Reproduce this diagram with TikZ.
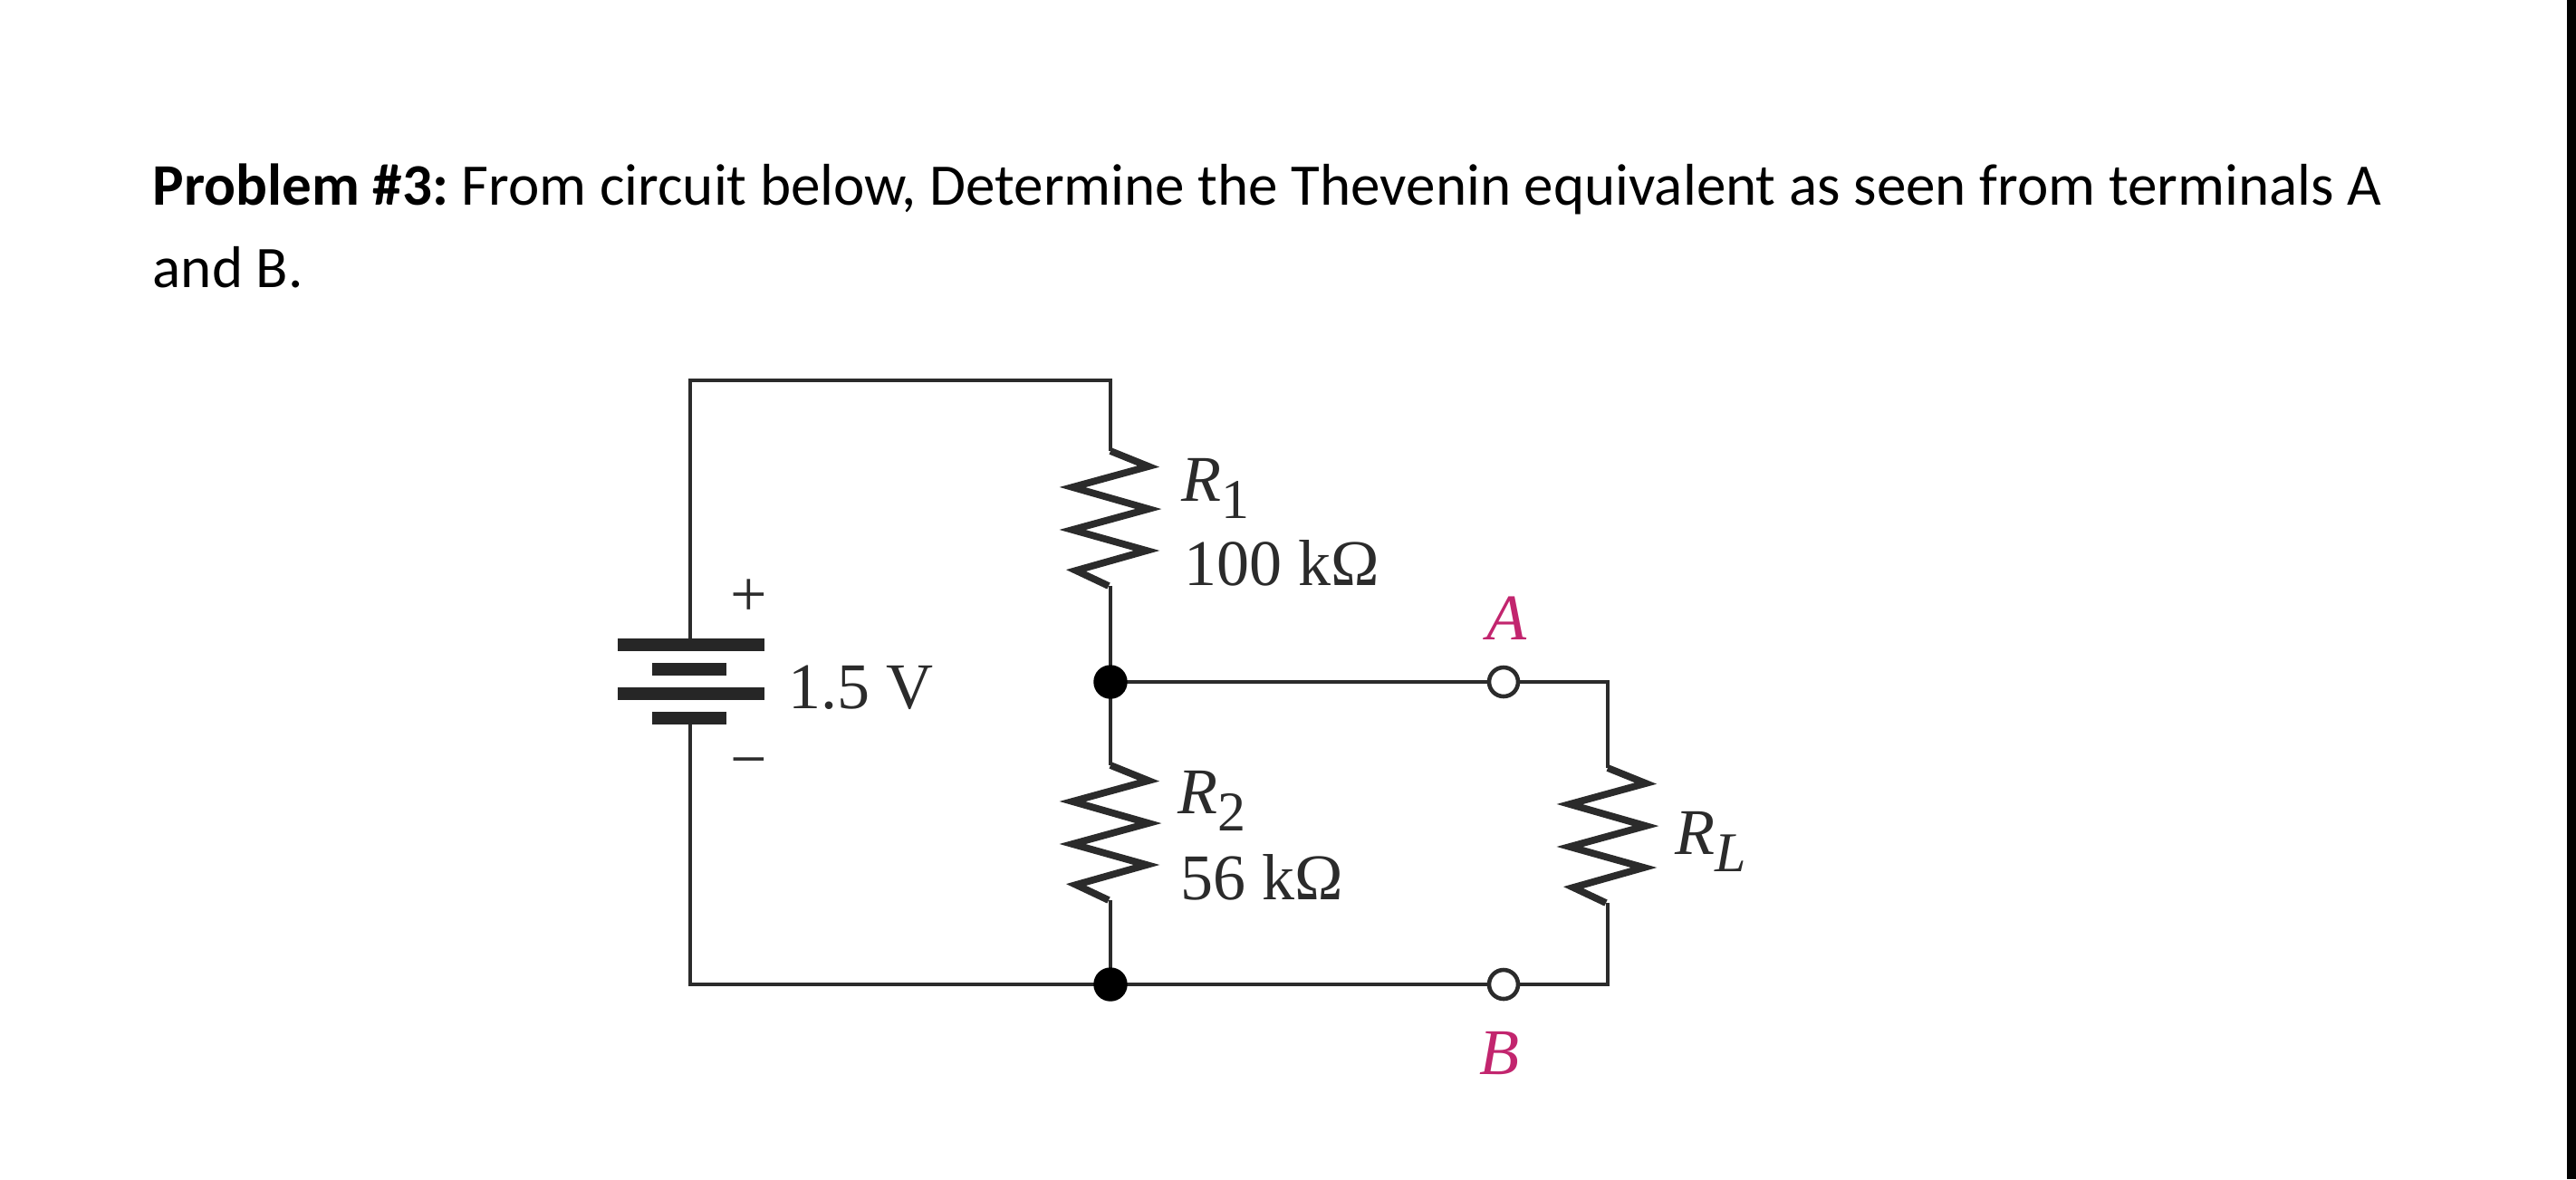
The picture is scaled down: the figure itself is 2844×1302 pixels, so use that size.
\documentclass[tikz,border=0pt]{standalone}
\usepackage{fontspec}
\setmainfont{Carlito}
\newfontfamily\figfont{Liberation Serif}
\definecolor{wirecol}{HTML}{2B2B2B}
\definecolor{termcol}{HTML}{C2256E}
\newcommand{\dotsize}{.36cm}
\newcommand{\zigzag}{-- ++(42,17) -- ++(-84,23) -- ++(84,24) -- ++(-84,23) -- ++(82,23) -- ++(-78,22) -- ++(36,17)}
\newcommand{\subtext}[1]{\raisebox{-.6ex}{\upshape\fontsize{.62cm}{.62cm}\selectfont #1}}
\tikzset{
  wire/.style={draw=wirecol, line width=1.3pt},
  zig/.style={wire, line width=2.2pt, line join=miter},
  plate/.style={draw=black!85, line width=4.2pt},
  problemtext/.style={anchor=base west, inner sep=0pt, font=\fontsize{.65cm}{.65cm}\selectfont},
  figlabel/.style={anchor=base west, inner sep=0pt, text=wirecol, font=\figfont\fontsize{.72cm}{.72cm}\selectfont},
  termlabel/.style={anchor=base, inner sep=0pt, text=termcol, font=\figfont\itshape\fontsize{.72cm}{.72cm}\selectfont},
}
\begin{document}
\begin{tikzpicture}[x=.01cm,y=-.01cm]
        \useasboundingbox (0,0) rectangle (2844,1302);
        \fill[white] (0,0) rectangle (2844,1302);
        \fill[black] (2834,0) rectangle (2844,1302);

        \node (line1) at (168,226) [problemtext] {\textbf{Problem \#3:}\hspace{-.05cm} From circuit below, Determine the Thevenin equivalent as seen from terminals A};
        \node (line2) at (168,317) [problemtext] {and B.};

        % corners and battery plates
        \coordinate (tl) at (762,420);
        \coordinate (tr) at (1226,420);
        \coordinate (bl) at (762,1087);
        \coordinate (ar) at (1775,753);
        \coordinate (br) at (1775,1087);
        \coordinate (p1l) at (682,712);
        \coordinate (p1r) at (844,712);
        \coordinate (p1m) at (762,712);
        \coordinate (p2l) at (720,739);
        \coordinate (p2r) at (802,739);
        \coordinate (p3l) at (682,766);
        \coordinate (p3r) at (844,766);
        \coordinate (p4l) at (720,793);
        \coordinate (p4r) at (802,793);
        \coordinate (p4m) at (762,793);
        % resistor ends
        \coordinate (r1top) at (1226,498);
        \coordinate (r1bot) at (1226,647);
        \coordinate (r2top) at (1226,845);
        \coordinate (r2bot) at (1226,994);
        \coordinate (rltop) at (1775,848);
        \coordinate (rlbot) at (1775,997);

        \draw[wire]
        (p1m) to (tl) to (tr) to (r1top)
        (r1bot) to (r2top)
        (r2bot) to (1226,1087) to (bl) to (p4m)
        (1226,753) to (ar) to (rltop)
        (rlbot) to (br) to (1226,1087);
        \draw[zig] (r1top) \zigzag;
        \draw[zig] (r2top) \zigzag;
        \draw[zig] (rltop) \zigzag;
        \draw[plate] (p1l) to (p1r) (p2l) to (p2r) (p3l) to (p3r) (p4l) to (p4r);

        \node (mid) at (1226,753) [draw=black, fill=black, circle, inner sep=0pt, minimum size=\dotsize] {};
        \node (low) at (1226,1087) [draw=black, fill=black, circle, inner sep=0pt, minimum size=\dotsize] {};
        \node (termA) at (1660,753) [wire, fill=white, circle, inner sep=0pt, minimum size=.32cm] {};
        \node (termB) at (1660,1087) [wire, fill=white, circle, inner sep=0pt, minimum size=.32cm] {};

        \node (plus) at (827,680) [anchor=base, inner sep=0pt, font=\figfont\fontsize{.72cm}{.72cm}\selectfont, text=wirecol] {+};
        \node (minus) at (827,862) [anchor=base, inner sep=0pt, font=\figfont\fontsize{.72cm}{.72cm}\selectfont, text=wirecol] {−};
        \node (volt) at (870,782) [figlabel] {1.5 V};
        \node (r1name) at (1304,553) [figlabel] {\textit{R}\subtext{1}};
        \node (r1val) at (1307,646) [figlabel] {100 kΩ};
        \node (r2name) at (1300,898) [figlabel] {\textit{R}\subtext{2}};
        \node (r2val) at (1303,993) [figlabel] {56 kΩ};
        \node (rlname) at (1849,943) [figlabel] {\textit{R}\subtext{\textit{L}}};
        \node (nameA) at (1663,706) [termlabel] {A};
        \node (nameB) at (1655,1186) [termlabel] {B};
\end{tikzpicture}
\end{document}
